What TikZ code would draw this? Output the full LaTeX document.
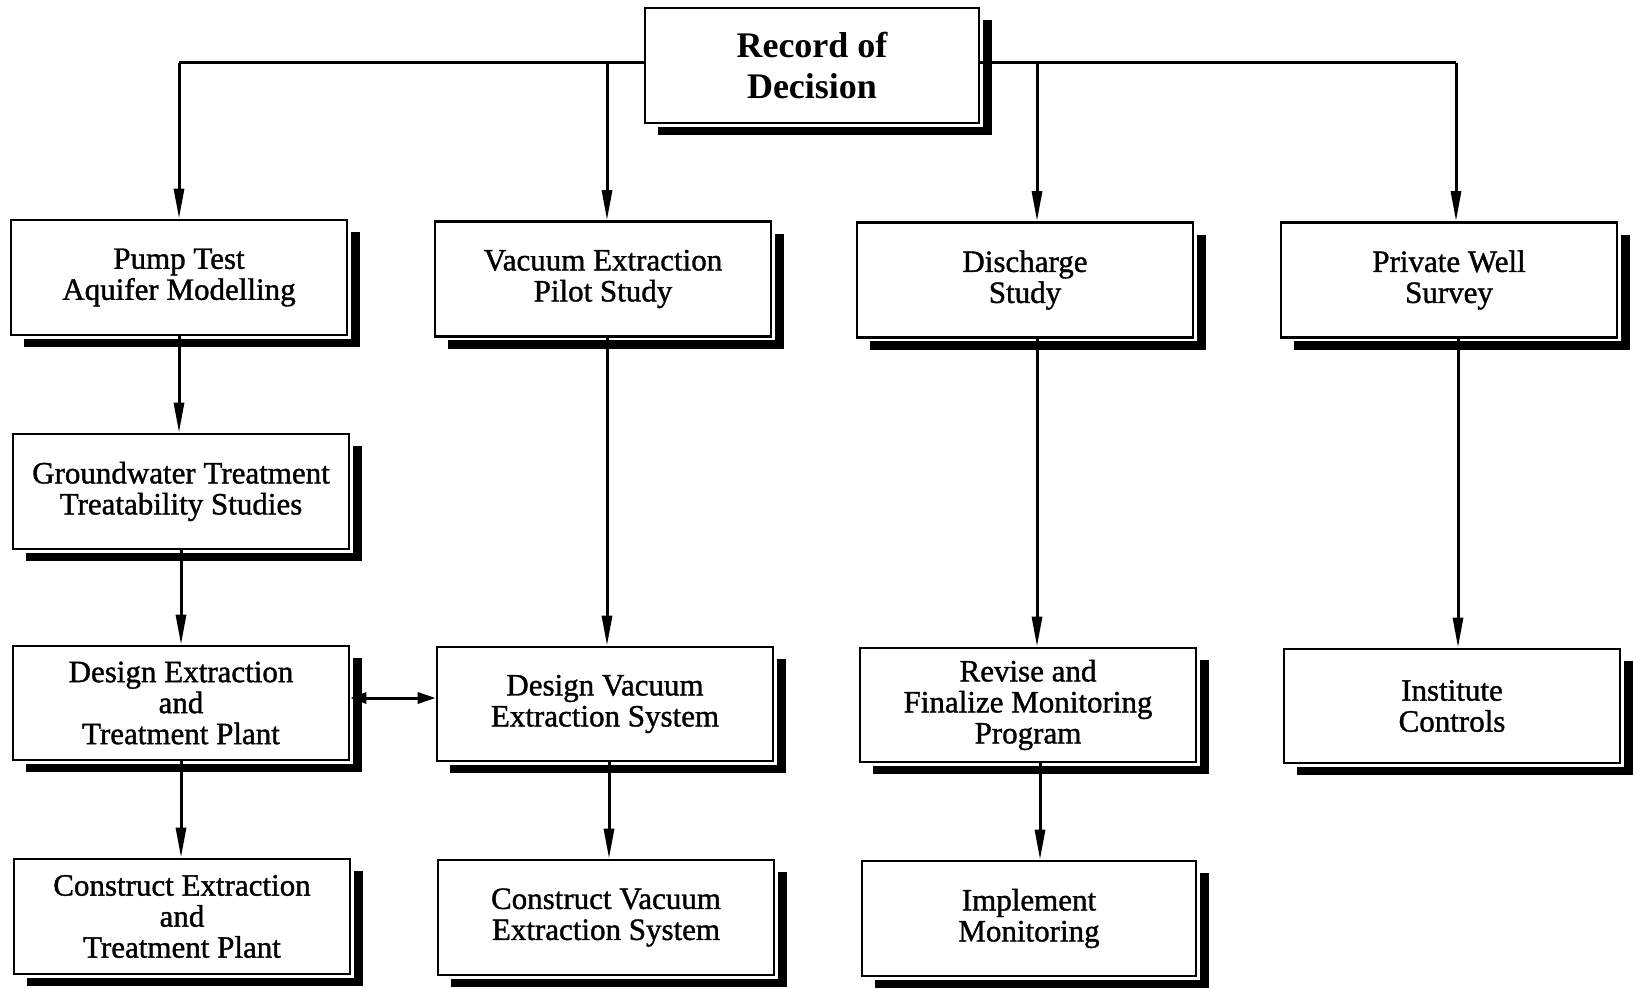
\documentclass[tikz,border=0pt]{standalone}
\usepackage{fontspec}
\setmainfont{Liberation Serif}
\newfontfamily\boxfont{Liberation Serif}[FakeBold=1.2]
\usetikzlibrary{arrows.meta,shadows}
\begin{document}
\begin{tikzpicture}[x=1pt,y=-1pt,
  box/.style={draw=black, line width=2.6pt, fill=white,
    minimum width=336pt, minimum height=115pt, align=center, inner sep=0pt,
    font=\boxfont\fontsize{31}{31}\selectfont,
    general shadow={fill=black, shadow xshift=13pt, shadow yshift=-12pt},
    preaction={draw=white, line width=7pt}},
  topbox/.style={box, minimum width=334pt, font=\bfseries\fontsize{36}{40}\selectfont},
  conn/.style={line width=3pt, -{Triangle[length=30pt,width=10pt]}},
  link/.style={line width=3pt},
  dbl/.style={line width=3pt, {Triangle[length=16pt,width=11pt]}-{Triangle[length=18pt,width=11pt]}}]
\useasboundingbox (0,0) rectangle (1633,988);

\node[topbox] (rod) at (812,65.5) {Record of\\Decision};

\node[box] (pump)  at (179,277.5) {Pump Test\\Aquifer Modelling};
\node[box] (vac)   at (603,279) {Vacuum Extraction\\Pilot Study};
\node[box] (disch) at (1025,280) {Discharge\\Study};
\node[box] (priv)  at (1449,280) {Private Well\\Survey};

\node[box] (gw)    at (181,491.5) {Groundwater Treatment\\Treatability Studies};

\node[box, minimum height=114pt] (dext) at (181,703) {Design Extraction\\and\\Treatment Plant};
\node[box, minimum height=114pt] (dvac) at (605,704) {Design Vacuum\\Extraction System};
\node[box, minimum height=114pt] (rev)  at (1028,705) {Revise and\\Finalize Monitoring\\Program};
\node[box, minimum height=114pt] (inst) at (1452,706) {Institute\\Controls};

\node[box] (cext) at (182,916.5) {Construct Extraction\\and\\Treatment Plant};
\node[box] (cvac) at (606,917.5) {Construct Vacuum\\Extraction System};
\node[box, minimum width=334pt] (impl) at (1029,918.5) {Implement\\Monitoring};

% entry points on the top boxes
\coordinate (pumpin)  at (pump.north);
\coordinate (vacin)   at ([xshift=4pt]vac.north);
\coordinate (dischin) at ([xshift=12pt]disch.north);
\coordinate (privin)  at ([xshift=7pt]priv.north);

% branches from Record of Decision
\coordinate (lj) at ([yshift=3pt]rod.west);
\coordinate (rj) at ([yshift=3pt]rod.east);
\draw[link] (lj) -- (lj -| pumpin);
\draw[conn] (lj -| pumpin) -- (pumpin);
\draw[conn] (lj -| vacin) -- (vacin);
\draw[link] (rj) -- (rj -| privin);
\draw[conn] (rj -| dischin) -- (dischin);
\draw[conn] (rj -| privin) -- (privin);

% column 1
\draw[conn] (pump.south) -- (pump.south |- gw.north);
\draw[conn] (gw.south) -- (gw.south |- dext.north);
\draw[conn] (dext.south) -- (dext.south |- cext.north);
% column 2
\draw[conn] ([xshift=4pt]vac.south) -- ([xshift=4pt]vac.south |- dvac.north);
\draw[conn] ([xshift=4pt]dvac.south) -- ([xshift=4pt]dvac.south |- cvac.north);
% column 3
\draw[conn] ([xshift=12pt]disch.south) -- ([xshift=12pt]disch.south |- rev.north);
\draw[conn] ([xshift=12pt]rev.south) -- ([xshift=12pt]rev.south |- impl.north);
% column 4
\draw[conn] ([xshift=9pt]priv.south) -- ([xshift=9pt]priv.south |- inst.north);

% double arrow
\draw[dbl] ([yshift=5pt]dext.east) -- ([yshift=5pt]dext.east -| dvac.west);
\end{tikzpicture}
\end{document}
